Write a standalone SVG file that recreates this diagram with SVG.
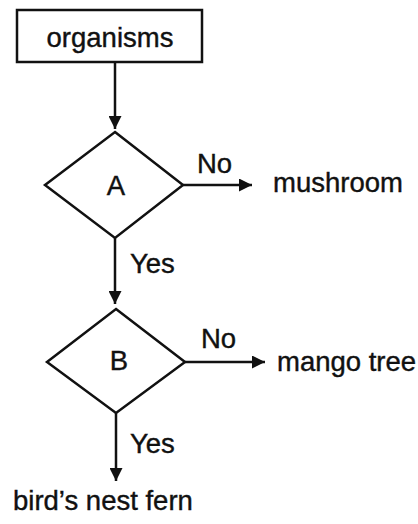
<svg xmlns="http://www.w3.org/2000/svg" width="418" height="524" viewBox="0 0 418 524">
<style>
  text { font-family: "Liberation Sans", Arial, sans-serif; font-size: 27.5px; fill: #111; stroke: #111; stroke-width: 0.4; }
  .shape { fill: #fff; stroke: #111; stroke-width: 2.5; }
  .conn { stroke: #111; stroke-width: 2.5; fill: none; marker-end: url(#arrow); }
</style>
<defs>
  <marker id="arrow" viewBox="0 0 13 13" refX="13" refY="6.5" markerWidth="13" markerHeight="13" markerUnits="userSpaceOnUse" orient="auto">
    <path d="M0,0 L13,6.5 L0,13 Z" fill="#111"/>
  </marker>
</defs>
<rect width="418" height="524" fill="#fff"/>
<g id="connectors">
  <line class="conn" x1="115" y1="62" x2="115" y2="129"/>
  <line class="conn" x1="183" y1="185" x2="252" y2="185"/>
  <line class="conn" x1="115" y1="238" x2="115" y2="304"/>
  <line class="conn" x1="185" y1="362" x2="265" y2="362"/>
  <line class="conn" x1="116" y1="413" x2="116" y2="481"/>
  <text x="197" y="173">No</text>
  <text x="130" y="273">Yes</text>
  <text x="201" y="348">No</text>
  <text x="130" y="453">Yes</text>
</g>
<g id="organisms">
  <rect class="shape" x="17" y="10" width="185" height="52" stroke-width="2"/>
  <text x="110" y="47" text-anchor="middle">organisms</text>
</g>
<g id="A">
  <polygon class="shape" points="115,132 183,185 115,238 45,185"/>
  <text x="116" y="195" text-anchor="middle">A</text>
</g>
<g id="B">
  <polygon class="shape" points="116,309 185,362 116,413 47,362"/>
  <text x="119" y="370" text-anchor="middle">B</text>
</g>
<g id="mushroom">
  <text x="273" y="192">mushroom</text>
</g>
<g id="mango">
  <text x="277" y="371">mango tree</text>
</g>
<g id="fern">
  <text x="13" y="510">bird’s nest fern</text>
</g>
</svg>
